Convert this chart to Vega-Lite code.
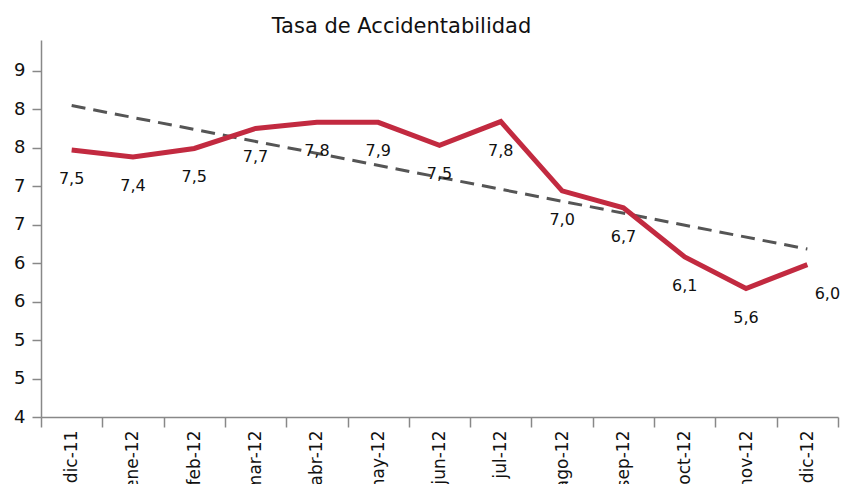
{
  "$schema": "https://vega.github.io/schema/vega-lite/v6.json",
  "width": 797,
  "height": 377,
  "autosize": "none",
  "padding": {"left": 41, "top": 40, "right": 6, "bottom": 67},
  "background": "white",
  "config": {
    "locale": {"number": {"decimal": ",", "thousands": ".", "grouping": [3], "currency": ["", " €"]}},
    "view": {"stroke": null},
    "font": "DejaVu Sans"
  },
  "title": {
    "text": "Tasa de Accidentabilidad",
    "fontSize": 21,
    "fontWeight": "normal",
    "color": "#111111",
    "anchor": "middle",
    "dx": -38,
    "baseline": "alphabetic",
    "offset": -14
  },
  "datasets": {
    "tasa": [
      {"i": 0, "month": "dic-11", "rate": 7.47, "label": 7.5},
      {"i": 1, "month": "ene-12", "rate": 7.38, "label": 7.4},
      {"i": 2, "month": "feb-12", "rate": 7.49, "label": 7.5},
      {"i": 3, "month": "mar-12", "rate": 7.75, "label": 7.7},
      {"i": 4, "month": "abr-12", "rate": 7.83, "label": 7.8},
      {"i": 5, "month": "may-12", "rate": 7.83, "label": 7.9},
      {"i": 6, "month": "jun-12", "rate": 7.53, "label": 7.5},
      {"i": 7, "month": "jul-12", "rate": 7.84, "label": 7.8},
      {"i": 8, "month": "ago-12", "rate": 6.94, "label": 7.0},
      {"i": 9, "month": "sep-12", "rate": 6.72, "label": 6.7},
      {"i": 10, "month": "oct-12", "rate": 6.08, "label": 6.1},
      {"i": 11, "month": "nov-12", "rate": 5.67, "label": 5.6},
      {"i": 12, "month": "dic-12", "rate": 5.98, "label": 6.0}
    ]
  },
  "data": {"name": "tasa"},
  "encoding": {
    "x": {
      "field": "month",
      "type": "ordinal",
      "sort": {"field": "i", "op": "min"},
      "scale": {"type": "band", "paddingInner": 0, "paddingOuter": 0},
      "axis": {
        "title": null,
        "tickBand": "extent",
        "labelAngle": -90,
        "labelFontSize": 17,
        "labelPadding": 3,
        "labelColor": "#111111",
        "tickSize": 10,
        "tickColor": "#888888",
        "tickWidth": 1.5,
        "domainColor": "#888888",
        "domainWidth": 1.5,
        "grid": false
      }
    }
  },
  "layer": [
    {
      "transform": [
        {"regression": "label", "on": "i"},
        {"lookup": "i", "from": {"data": {"name": "tasa"}, "key": "i", "fields": ["month"]}}
      ],
      "mark": {"type": "line", "color": "#555555", "strokeDash": [14, 8], "strokeWidth": 3},
      "encoding": {
        "y": {
          "field": "label",
          "type": "quantitative",
          "scale": {"domain": [4, 8.9], "nice": false, "zero": false},
          "axis": {
            "title": null,
            "values": [4, 4.5, 5, 5.5, 6, 6.5, 7, 7.5, 8, 8.5],
            "format": ".0f",
            "tickSize": 9,
            "labelPadding": 7,
            "labelFontSize": 18,
            "labelColor": "#111111",
            "tickColor": "#888888",
            "tickWidth": 1.5,
            "domainColor": "#888888",
            "domainWidth": 1.5,
            "grid": false
          }
        }
      }
    },
    {
      "mark": {"type": "line", "color": "#c22a40", "strokeWidth": 5},
      "encoding": {"y": {"field": "rate", "type": "quantitative"}}
    },
    {
      "mark": {"type": "text", "dy": 29, "dx": {"expr": "datum.i == 12 ? 20 : 0"}, "fontSize": 16, "color": "#111111"},
      "encoding": {
        "y": {"field": "rate", "type": "quantitative"},
        "text": {"field": "label", "type": "quantitative", "format": ".1f"}
      }
    }
  ]
}
